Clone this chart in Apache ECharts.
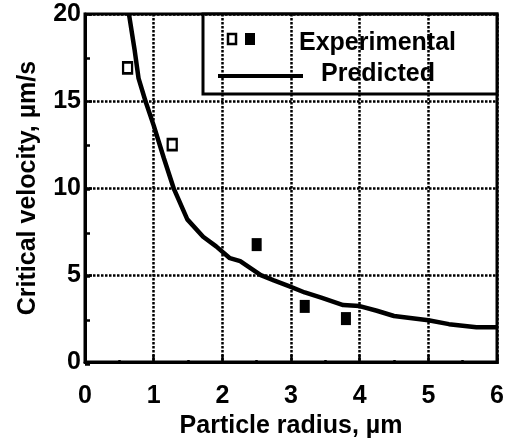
<!DOCTYPE html>
<html>
<head>
<meta charset="utf-8">
<script src="https://cdn.jsdelivr.net/npm/echarts@6/dist/echarts.min.js"></script>
<style>
  html, body { margin: 0; padding: 0; background: #fff; }
  #chart { width: 511px; height: 444px; }
</style>
</head>
<body>
<div id="chart"></div>
<script>
// experimental points, open and filled squares
const openRadius = [0.62, 1.27]
const openVelocity = [16.9, 12.5]
const filledRadius = [2.5, 3.2, 3.8]
const filledVelocity = [6.75, 3.2, 2.5]

// predicted curve
const curveRadius = [0.64, 0.72, 0.78, 0.88, 1.0, 1.15, 1.29, 1.49, 1.72, 1.91, 2.11, 2.26, 2.56, 2.75, 2.97, 3.2, 3.44, 3.76, 4.0, 4.25, 4.5, 5.0, 5.3, 5.7, 6.0]
const curveVelocity = [20, 18, 16.3, 15, 13.6, 11.7, 10, 8.2, 7.2, 6.65, 5.97, 5.8, 5.0, 4.7, 4.36, 4.0, 3.7, 3.28, 3.22, 2.95, 2.65, 2.4, 2.18, 2.0, 2.0]

const xTicks = [0, 1, 2, 3, 4, 5, 6]
const yTicks = [0, 5, 10, 15, 20]

const zip = (xs, ys) => xs.map((x, i) => [x, ys[i]])

const font = 'Liberation Sans, Arial, Helvetica, sans-serif'
const txt = { color: '#000', fontFamily: font, fontWeight: 'bold', fontSize: 25 }
const dots = { color: '#000', width: 2.5, type: [2.5, 1.5] }
const tickStyle = { color: '#000', width: 2.5 }
const rect = { left: 85, right: 14, top: 14, bottom: 80 }

// a second, invisible grid on the same spot only carries the half-step ticks
const minorAxis = (min, max, step, len) => ({
  type: 'value', gridIndex: 1, min: min, max: max, interval: step,
  axisLine: { show: false },
  axisTick: { show: true, inside: true, length: len, lineStyle: tickStyle },
  axisLabel: { show: false },
  splitLine: { show: false }
})

const myChart = echarts.init(document.getElementById('chart'))
myChart.setOption({
  animation: false,
  grid: [
    Object.assign({ show: true, borderColor: '#000', borderWidth: 3, backgroundColor: 'transparent' }, rect),
    Object.assign({ show: false }, rect)
  ],
  xAxis: [
    {
      type: 'value', position: 'bottom',
      min: xTicks[0], max: xTicks[xTicks.length - 1], interval: 1,
      name: 'Particle radius, µm',
      nameLocation: 'middle', nameGap: 48,
      nameTextStyle: txt,
      axisLine: { lineStyle: { color: '#000', width: 3 } },
      axisTick: { inside: true, length: 7, lineStyle: tickStyle },
      axisLabel: Object.assign({ margin: 22 }, txt),
      splitLine: { show: true, lineStyle: dots }
    },
    Object.assign(minorAxis(0, 6, 0.5, 4), { position: 'bottom' })
  ],
  yAxis: [
    {
      type: 'value', position: 'left',
      min: yTicks[0], max: yTicks[yTicks.length - 1], interval: 5,
      name: 'Critical velocity, µm/s',
      nameLocation: 'middle', nameGap: 44,
      nameTextStyle: txt,
      axisLine: { show: true, lineStyle: { color: '#000', width: 3 } },
      axisTick: { show: true, inside: true, length: 7, lineStyle: tickStyle },
      axisLabel: Object.assign({ margin: 4 }, txt),
      splitLine: { show: true, lineStyle: dots }
    },
    Object.assign(minorAxis(0, 20, 2.5, 5), { position: 'left' })
  ],
  series: [
    {
      name: 'Predicted',
      type: 'line',
      data: zip(curveRadius, curveVelocity),
      showSymbol: false,
      lineStyle: { color: '#000', width: 4.5 },
      z: 3
    },
    {
      name: 'Experimental',
      type: 'scatter',
      data: zip(openRadius, openVelocity),
      symbol: 'rect',
      symbolSize: [9, 11],
      itemStyle: { color: '#fff', borderColor: '#000', borderWidth: 2.5, opacity: 1 },
      z: 4
    },
    {
      name: 'Experimental',
      type: 'scatter',
      data: zip(filledRadius, filledVelocity),
      symbol: 'rect',
      symbolSize: [10, 13],
      itemStyle: { color: '#000', opacity: 1 },
      z: 4
    }
  ],
  // legend box drawn by hand, it has two square icons for one entry
  graphic: [
    {
      type: 'group', z: 10,
      children: [
        { type: 'rect', shape: { x: 203, y: 14, width: 294, height: 80 },
          style: { fill: '#fff', stroke: '#000', lineWidth: 3 } },
        { type: 'rect', shape: { x: 228, y: 34, width: 8, height: 10 },
          style: { fill: '#fff', stroke: '#000', lineWidth: 2.5 } },
        { type: 'rect', shape: { x: 245, y: 33, width: 10, height: 12 },
          style: { fill: '#000' } },
        { type: 'text', x: 299, y: 43,
          style: { text: 'Experimental', verticalAlign: 'middle', fill: '#000',
            font: 'bold 25px ' + font } },
        { type: 'line', shape: { x1: 218, y1: 76, x2: 303, y2: 76 },
          style: { stroke: '#000', lineWidth: 4 } },
        { type: 'text', x: 321, y: 74,
          style: { text: 'Predicted', verticalAlign: 'middle', fill: '#000',
            font: 'bold 25px ' + font } }
      ]
    }
  ]
})
</script>
</body>
</html>
